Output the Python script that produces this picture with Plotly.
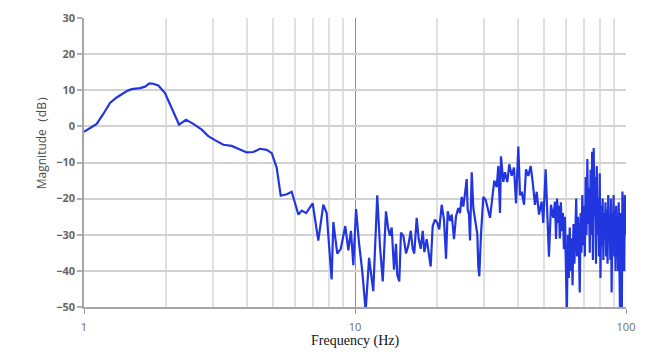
import plotly.graph_objects as go

# ---------------- data ----------------
freq_hz = [
    1.000, 1.05, 1.114, 1.18, 1.247, 1.32, 1.396, 1.45, 1.500, 1.609, 1.68, 1.742, 1.80, 1.880,
    1.990, 2.107, 2.242, 2.379, 2.531, 2.719, 2.875, 3.043, 3.266, 3.508, 3.710, 3.985, 4.214,
    4.462, 4.722, 4.93, 5.14, 5.32, 5.60, 5.84, 6.18, 6.36, 6.60, 6.98, 7.32, 7.64, 7.86, 8.20,
    8.32, 8.60, 8.86, 9.21, 9.45, 9.66, 9.86, 10.09, 10.34, 10.64, 10.95, 11.27, 11.68, 12.08,
    12.37, 12.66, 13.01, 13.27, 13.46, 13.66, 13.93, 14.17, 14.32, 14.57, 14.78, 15.08, 15.43,
    15.73, 16.06, 16.33, 16.55, 16.89, 17.18, 17.48, 17.78, 18.03, 18.39, 18.75, 19.02, 19.35,
    19.73, 20.12, 20.46, 20.89, 21.30, 21.67, 21.98, 22.42, 22.75, 23.19, 23.59, 24.05, 24.40,
    24.76, 25.10, 25.46, 25.83, 26.05, 26.34, 26.57, 26.96, 27.33, 27.72, 28.27, 28.51, 28.75,
    29.17, 29.75, 30.36, 30.88, 31.49, 31.94, 32.66, 33.33, 33.79, 34.28, 34.57, 35.26, 35.77,
    36.48, 37.10, 37.86, 38.61, 39.28, 40.06, 40.64, 41.23, 42.05, 42.76, 43.60, 44.50, 45.26,
    46.15, 46.83, 47.75, 48.86, 49.52, 50.52, 51.39, 51.96, 52.85, 53.90, 54.70, 55.18, 55.70,
    56.24,
    56.5, 57.0, 57.5, 58.0, 58.5, 59.0, 59.5, 60.0, 60.5, 61.0, 61.5, 62.0, 62.5, 63.0, 63.5,
    64.0, 64.5, 65.0, 65.5, 66.0, 66.5, 67.0, 67.5, 68.0, 68.5, 69.0, 69.5, 70.0, 70.5, 71.0,
    71.5, 72.0, 72.5, 73.0, 73.5, 74.0, 74.5, 75.0, 75.5, 76.0, 76.5, 77.0, 77.5, 78.0, 78.5,
    79.0, 79.5, 80.0, 80.5, 81.0, 81.5, 82.0, 82.5, 83.0, 83.5, 84.0, 84.5, 85.0, 85.5, 86.0,
    86.5, 87.0, 87.5, 88.0, 88.5, 89.0, 89.5, 90.0, 90.5, 91.0, 91.5, 92.0, 92.5, 93.0, 93.5,
    94.0, 94.5, 95.0, 95.5, 96.0, 96.5, 97.0, 97.5, 98.0, 98.5, 99.0, 99.5, 100.0,
]

magnitude_db = [
    -1.5, -0.5, 0.7, 3.5, 6.5, 8.0, 9.2, 9.9, 10.3, 10.6, 11.0, 11.9, 11.8, 11.3,
    9.2, 5.2, 0.5, 1.8, 0.7, -0.9, -2.7, -3.8, -5.1, -5.4, -6.2, -7.2, -7.1,
    -6.2, -6.5, -7.4, -11.4, -19.2, -18.8, -18.1, -24.4, -23.3, -24.0, -21.3, -31.6, -21.7, -24.0, -42.4,
    -26.5, -35.2, -33.9, -27.6, -34.3, -28.9, -38.4, -22.9, -32.1, -40.2, -51.0, -36.4, -45.6, -19.1,
    -33.4, -42.9, -23.5, -28.5, -30.3, -28.0, -39.7, -32.5, -41.1, -42.9, -29.4, -30.3, -35.2,
    -33.0, -28.9, -33.9, -35.2, -25.3, -31.2, -33.9, -28.9, -34.8, -31.2, -35.2, -38.8, -27.6,
    -25.8, -26.7, -28.5, -21.7, -25.8, -36.6, -23.5, -26.2, -24.4, -31.2, -24.9, -22.6, -24.0,
    -19.5, -22.2, -18.6, -14.6, -23.1, -24.4, -31.6, -12.7, -22.6, -25.3, -29.8, -38.8, -41.5,
    -29.8, -19.5, -20.4, -22.6, -25.3, -21.3, -15.0, -16.8, -11.0, -24.0, -8.3, -15.4, -12.7,
    -15.4, -10.5, -13.7, -11.4, -21.3, -5.6, -19.1, -18.1, -21.7, -11.9, -13.7, -11.0, -15.4,
    -21.7, -18.1, -24.4, -20.8, -26.7, -11.9, -26.2, -36.1, -21.7, -25.3, -20.8, -31.2, -20.0,
    -26.7,
    -22, -31, -21, -29, -24, -34, -25, -38, -52, -30, -42, -28, -40, -31, -44,
    -27, -38, -30, -20, -36, -25, -33, -46, -24, -35, -19, -33, -22, -36, -14,
    -30, -9, -27, -17, -35, -12, -30, -7, -37, -6, -25, -14, -38, -11, -30,
    -20, -36, -13, -42, -22, -33, -20, -37, -24, -31, -21, -36, -23, -38, -19,
    -32, -25, -37, -20, -46, -24, -34, -19, -36, -23, -40, -22, -33, -26, -40,
    -21, -35, -51, -24, -38, -53, -18, -34, -25, -40, -19, -30, -21,
]

major_ticks = [1, 10, 100]
major_labels = ["1", "10", "100"]
minor_ticks = [2, 3, 4, 5, 6, 7, 8, 9, 20, 30, 40, 50, 60, 70, 80, 90]
y_ticks = [30, 20, 10, 0, -10, -20, -30, -40, -50]

x_title = "Frequency (Hz)"
y_title = "Magnitude（dB）"

# ---------------- figure ----------------
fig = go.Figure()
fig.add_trace(go.Scatter(
    x=freq_hz, y=magnitude_db, mode="lines",
    line=dict(color="#2236e0", width=2.2),
    showlegend=False, hoverinfo="skip",
))

tick_font = dict(family="Open Sans, Liberation Sans, sans-serif", size=11,
                 color="#666666", weight="bold")

fig.update_layout(
    width=657, height=363,
    margin=dict(l=84, r=31, t=10, b=56),
    paper_bgcolor="white", plot_bgcolor="white",
    xaxis=dict(
        type="log", range=[0, 2],
        tickmode="array", tickvals=major_ticks, ticktext=major_labels,
        showgrid=True, gridcolor="#8f8f8f", gridwidth=1,
        minor=dict(tickmode="array", tickvals=minor_ticks, showgrid=True,
                   gridcolor="#e0e0e0", gridwidth=1.5, ticks=""),
        ticks="outside", ticklen=5, tickcolor="#9a9a9a", tickwidth=1,
        showline=True, linecolor="#a6a6a6", linewidth=1.5, mirror=False,
        tickfont=dict(family="Open Sans, Liberation Sans, sans-serif", size=11, color="#6a6a6a"),
        ticklabelstandoff=4,
        zeroline=False, fixedrange=True,
    ),
    yaxis=dict(
        range=[-50, 30], tickmode="array", tickvals=y_ticks,
        showgrid=True, gridcolor="#d2d2d2", gridwidth=1.5,
        ticks="outside", ticklen=5, tickcolor="#b0b0b0", tickwidth=1.5,
        showline=True, linecolor="#a6a6a6", linewidth=1.5,
        tickfont=tick_font, zeroline=False, fixedrange=True,
    ),
    annotations=[
        dict(text=x_title, xref="paper", yref="paper", x=0.5, y=-0.118,
             xanchor="center", yanchor="middle", showarrow=False,
             font=dict(family="Liberation Serif, Times New Roman, serif", size=14, color="#111111")),
        dict(text=y_title, xref="paper", yref="paper", x=-0.077, y=0.578,
             xanchor="center", yanchor="middle", showarrow=False, textangle=-90,
             font=dict(family="Open Sans, Liberation Sans, sans-serif", size=12, color="#4a4a4a")),
    ],
)

fig.write_html("out.html")
